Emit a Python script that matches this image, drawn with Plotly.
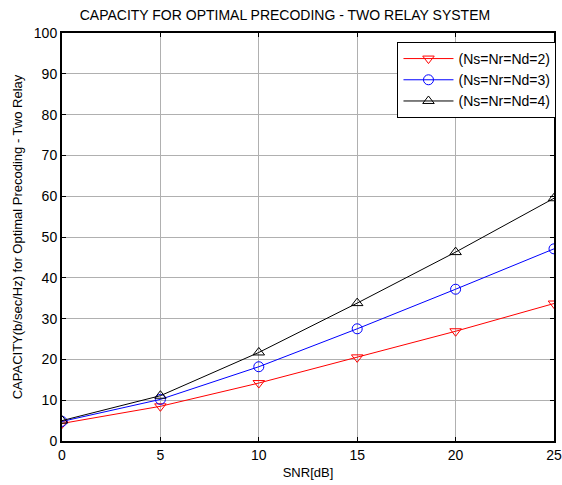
import plotly.graph_objects as go

snr = [0, 5, 10, 15, 20, 25]
cap_2 = [4.3, 8.5, 14.2, 20.5, 26.9, 33.7]
cap_3 = [4.8, 10.2, 18.2, 27.5, 37.2, 47.1]
cap_4 = [5.0, 11.1, 21.7, 33.8, 46.3, 59.5]
names = ["(Ns=Nr=Nd=2)", "(Ns=Nr=Nd=3)", "(Ns=Nr=Nd=4)"]
x_ticks = [0, 5, 10, 15, 20, 25]
y_ticks = [0, 10, 20, 30, 40, 50, 60, 70, 80, 90, 100]

fig = go.Figure()
series = [
    (cap_2, "red", "triangle-down-open"),
    (cap_3, "blue", "circle-open"),
    (cap_4, "black", "triangle-up-open"),
]
for (vals, col, sym), nm in zip(series, names):
    fig.add_trace(go.Scatter(
        x=snr, y=vals, name=nm, mode="lines+markers",
        line=dict(color=col, width=1),
        marker=dict(symbol=sym, size=10, color=col, line=dict(color=col, width=1)),
    ))

axis_common = dict(
    showgrid=True, gridcolor="#b0b0b0", gridwidth=1,
    showline=True, linecolor="black", linewidth=2, mirror="ticks",
    ticks="inside", ticklen=4, tickcolor="black", zeroline=False,
    automargin=False,
    tickfont=dict(family="Arial", size=14, color="black"),
)

fig.update_layout(
    width=562, height=485,
    margin=dict(l=62, r=7, t=33, b=44),
    paper_bgcolor="white", plot_bgcolor="white",
    title=dict(text="CAPACITY FOR OPTIMAL PRECODING - TWO RELAY SYSTEM",
               x=0.507, xanchor="center", y=0.968, yanchor="middle",
               font=dict(family="Arial", size=14, color="black")),
    xaxis=dict(range=[0, 25], tickvals=x_ticks,
               title=dict(text="SNR[dB]", standoff=6,
                          font=dict(family="Arial", size=13, color="black")),
               **axis_common),
    yaxis=dict(range=[0, 100], tickvals=y_ticks,
               title=dict(text="CAPACITY(b/sec/Hz) for Optimal Precoding - Two Relay", standoff=8,
                          font=dict(family="Arial", size=13, color="black")),
               **axis_common),
    legend=dict(x=1.003, xanchor="right", y=0.978, yanchor="top",
                bgcolor="white", bordercolor="black", borderwidth=1,
                font=dict(family="Arial", size=14, color="black"),
                tracegroupgap=0, itemwidth=50),
    showlegend=True,
)

fig.write_html("out.html")
